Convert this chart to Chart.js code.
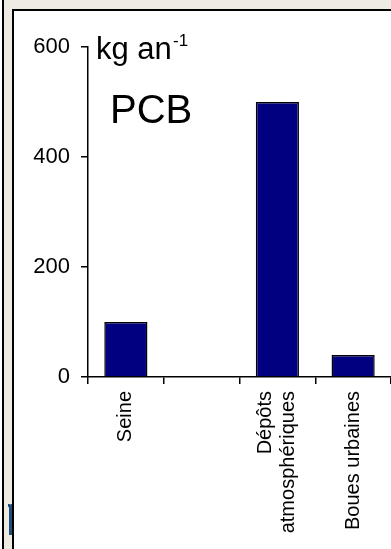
<!DOCTYPE html>
<html>
<head>
<meta charset="utf-8">
<script src="https://cdn.jsdelivr.net/npm/chart.js@4/dist/chart.umd.min.js"></script>
<style>
  html, body { margin: 0; padding: 0; background: #fff; overflow: hidden; }
  body { width: 391px; height: 549px; position: relative; font-family: "Liberation Sans", Arial, sans-serif; }
  .strip-top { position: absolute; left: 4px; top: 0; width: 387px; height: 9px; background: #eeece2; }
  .strip-left { position: absolute; left: 4px; top: 0; width: 8px; height: 549px; background: #eeece2; }
  .line-outer { position: absolute; left: 2px; top: 0; width: 2px; height: 549px; background: #000; }
  .frame { position: absolute; left: 12px; top: 9px; width: 400px; height: 560px; border-left: 2px solid #000; border-top: 2px solid #000; box-sizing: border-box; }
  .frag { position: absolute; left: 9px; top: 504px; width: 3px; height: 31px; background: #1f4e79; border-top-left-radius: 3px; }
  .frag2 { position: absolute; left: 8px; top: 504px; width: 2px; height: 3px; background: #1f4e79; }
  #wrap { position: absolute; left: 15px; top: 12px; width: 380px; height: 537px; }
  .unit { position: absolute; left: 96px; top: 33px; font-size: 31px; line-height: 31px; color: #000; white-space: nowrap; }
  .sup { position: absolute; left: 173px; top: 32px; font-size: 17px; line-height: 17px; color: #000; }
  .name { position: absolute; left: 110px; top: 89px; font-size: 40px; line-height: 40px; color: #000; }
</style>
</head>
<body>
<div class="strip-top"></div>
<div class="strip-left"></div>
<div class="line-outer"></div>
<div class="frame"></div>
<div class="frag"></div>
<div class="frag2"></div>
<div id="wrap"><canvas id="c" width="380" height="537"></canvas></div>
<div class="unit">kg an</div>
<div class="sup">-1</div>
<div class="name">PCB</div>
<script>
// PCB inputs by source (kg per year)
const sources = ['Seine', '', ['Dépôts', 'atmosphériques'], 'Boues urbaines'];
const pcbLoad = [100, null, 500, 40];
const yTicks = [0, 200, 400, 600];

// Centre multi-line rotated category labels on their tick instead of
// starting the first line on it.
const centerMultiline = {
  id: 'centerMultiline',
  beforeDraw(chart) {
    const sc = chart.scales.x;
    if (!sc._centerPatched) {
      const orig = sc._computeLabelItems.bind(sc);
      sc._computeLabelItems = function (area) {
        const items = orig(area);
        items.forEach(it => {
          if (Array.isArray(it.label) && it.label.length > 1) {
            it.options.translation[0] -= (it.label.length - 1) * it.font.lineHeight / 2;
          }
        });
        return items;
      };
      sc._centerPatched = true;
    }
    sc._labelItems = null;
  }
};

new Chart(document.getElementById('c'), {
  type: 'bar',
  data: {
    labels: sources,
    datasets: [{
      data: pcbLoad,
      backgroundColor: '#000080',
      borderColor: '#000000',
      borderWidth: 1.5,
      categoryPercentage: 1,
      barPercentage: 0.57
    }]
  },
  plugins: [centerMultiline],
  options: {
    responsive: false,
    animation: false,
    devicePixelRatio: 1,
    layout: { padding: { top: 35, right: 4, bottom: 0, left: 0 } },
    plugins: { legend: { display: false }, tooltip: { enabled: false } },
    scales: {
      x: {
        grid: { offset: true, drawOnChartArea: false, drawTicks: true, tickLength: 7, color: '#000', lineWidth: 1.5 },
        border: { display: true, color: '#000', width: 1.5 },
        ticks: {
          color: '#000', font: { family: 'Liberation Sans', size: 20, lineHeight: 1.15 },
          minRotation: 90, maxRotation: 90, autoSkip: false, padding: 7
        },
        afterFit: s => { s.height = 172; }
      },
      y: {
        min: yTicks[0], max: yTicks[yTicks.length - 1],
        afterBuildTicks: s => { s.ticks = yTicks.map(v => ({ value: v })); },
        grid: { drawOnChartArea: false, drawTicks: true, tickLength: 7, color: '#000', lineWidth: 1.5 },
        border: { display: true, color: '#000', width: 1.5 },
        ticks: { color: '#000', font: { family: 'Liberation Sans', size: 22 }, padding: 11 },
        afterFit: s => { s.width = 73; }
      }
    }
  }
});
</script>
</body>
</html>
